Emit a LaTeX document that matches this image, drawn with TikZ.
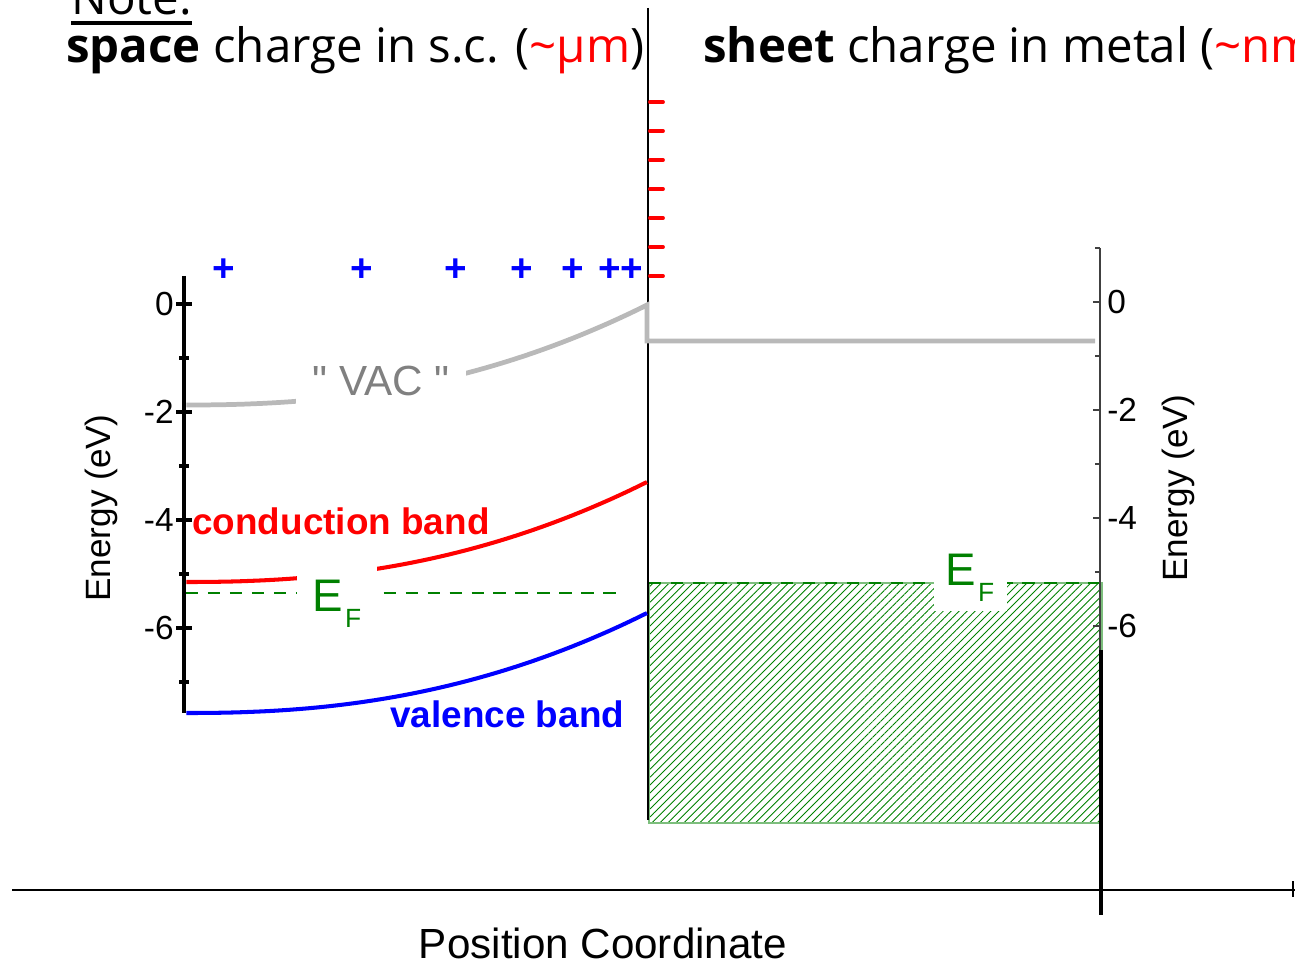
\documentclass[tikz,border=0pt]{standalone}
\usepackage{fontspec}
\setmainfont{Liberation Sans}
\newfontfamily\notefont{Open Sans}
\usetikzlibrary{patterns.meta, calc}
\definecolor{vacgray}{RGB}{185,185,185}
\definecolor{vactext}{RGB}{128,128,128}
\definecolor{fermigreen}{RGB}{0,128,0}
\definecolor{metalgreen}{RGB}{125,190,125}
\newcommand{\EFermi}{E\kern1pt\raisebox{-9pt}{\fontsize{15}{15}\selectfont F}}
\tikzset{
    axisline/.style={line width=2.2pt, black},
    bandline/.style={line width=2.3pt},
    vacline/.style={line width=2.7pt, vacgray},
    fermiline/.style={fermigreen, line width=1.1pt, dash pattern=on 7pt off 5.5pt},
    ticklabel/.style={font=\fontsize{19}{22}\selectfont, inner sep=0pt},
    energylabel/.style={font=\fontsize{20}{24}\selectfont, rotate=90, inner sep=0pt},
    bandlabel/.style={font=\fontsize{21}{25}\selectfont\bfseries, inner sep=0pt},
    fermilabel/.style={font=\fontsize{26}{30}\selectfont, text=fermigreen, fill=white, inner sep=0pt},
    notetext/.style={font=\notefont\fontsize{27}{32}\selectfont, inner sep=0pt},
}

\begin{document}
\begin{tikzpicture}[
        x=0.02cm, y=-0.02cm,
        poscharge/.style={text=blue, font=\fontsize{22}{22}\selectfont\bfseries, inner sep=0pt},
        negcharge/.style={red, line width=2.2pt, line cap=round},
        vaclabel/.style={font=\fontsize{24}{28}\selectfont, text=vactext, fill=white, inner sep=0pt, minimum width=3.4cm, minimum height=1.1cm}
    ]
    \useasboundingbox (0,0) rectangle (1295,966);
    \clip (0,0) rectangle (1295,966);

    \node[notetext, anchor=base west] (note) at (71,15) {Note:};
    \draw[line width=2.3pt] ($(note.base west)+(0,8)$) -- ($(note.base east)+(0,8)$);
    \node[notetext, anchor=base west] (sctitle) at (66,63) {\textbf{space} charge in s.c. ({\color{red}\textasciitilde µm})};
    \node[notetext, anchor=base west] (mtitle) at (703,63) {\textbf{sheet} charge in metal ({\color{red}\textasciitilde nm})};

    \fill[pattern={Lines[angle=45,distance=3.2pt,line width=0.5pt]}, pattern color=fermigreen] (649,583) rectangle (1102,823);
    \draw[metalgreen, line width=0.8pt] (649,583) rectangle (1102,823);
    \draw[fermiline] (649,583) -- (1102,583);

    \draw[line width=1pt] (648,8) -- (648,820);
    \foreach \k in {0,...,6}
        \draw[negcharge] (650,{102+29*\k}) -- (663,{102+29*\k});
    \foreach \x [count=\i] in {224,362,456,522,573,610,632}
        \node[poscharge] (plus\i) at (\x,270) {+};

    \draw[axisline] (184,276) -- (184,713);
    \foreach \v in {0,-2,-4,-6} {
        \draw[axisline] (176,{304-54*\v}) -- (192,{304-54*\v});
        \node[ticklabel, anchor=east] (ltick\v) at (174,{304-54*\v}) {\v};
    }
    \foreach \v in {-1,-3,-5,-7}
        \draw[axisline] (179,{304-54*\v}) -- (189,{304-54*\v});

    \draw[line width=0.8pt, black!75] (1100,248) -- (1100,823);
    \foreach \v in {0,-2,-4,-6} {
        \draw[line width=0.8pt, black!75] (1093,{302-54*\v}) -- (1100,{302-54*\v});
        \node[ticklabel, anchor=west] (rtick\v) at (1107,{302-54*\v}) {\v};
    }
    \foreach \v in {1,-1,-3,-5}
        \draw[line width=0.8pt, black!75] (1095,{302-54*\v}) -- (1100,{302-54*\v});
    \draw[line width=1.8pt] (1101,650) -- (1101,915);
    \draw[line width=1.6pt] (12,890) -- (1295,890);
    \draw[line width=1.6pt] (1293,881) -- (1293,897);

    \draw[vacline] plot[domain=0.001:1, samples=50] ({186+461*\x},{405-100*\x^2.3}) -- (647,341) -- (1095,341);
    \draw[bandline, red] plot[domain=0.001:1, samples=50] ({186+461*\x},{582-100*\x^2.3});
    \draw[bandline, blue] plot[domain=0.001:1, samples=50] ({186+461*\x},{713-100*\x^2.3});
    \draw[fermiline] (186,593) -- (618,593);

    \node[vaclabel] (vac) at (381,381) {\textquotedbl{} VAC \textquotedbl};
    \node[fermilabel, minimum width=1.6cm, minimum height=1.6cm] (efsemi) at (337,604) {\EFermi};
    \node[fermilabel, minimum width=1.46cm, minimum height=1.32cm] (efmetal) at (970,578) {\EFermi};
    \node[bandlabel, text=red, anchor=base west] (cband) at (192,534) {conduction band};
    \node[bandlabel, text=blue, anchor=base west] (vband) at (390,727) {valence band};

    \node[energylabel] (eleft) at (101,508) {Energy (eV)};
    \node[energylabel] (eright) at (1178,488) {Energy (eV)};
    \node[font=\fontsize{24}{28}\selectfont, anchor=base] (poscoord) at (603,958) {Position Coordinate};
\end{tikzpicture}
\end{document}
